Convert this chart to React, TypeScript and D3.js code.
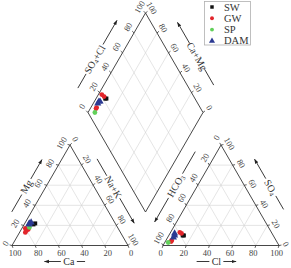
import * as d3 from 'd3';

// groups and legend
const groups = ['SW', 'GW', 'SP', 'DAM'];
const groupColors = ['#111111', '#e2252b', '#62d05a', '#2b3a92'];
const groupShapes = [d3.symbolSquare, d3.symbolCircle, d3.symbolCircle, d3.symbolTriangle];

// samples (meq %)
const sampleGroup = ['SW', 'SW', 'GW', 'GW', 'GW', 'GW', 'SP', 'DAM', 'DAM', 'DAM'];
const ca = [69, 71, 78, 80, 80, 82, 76, 74, 72, 75];
const mg = [22, 21, 16, 17, 15, 13, 18, 22, 23, 21];
const nak = [9, 8, 6, 3, 5, 5, 6, 4, 5, 4];
const hco3 = [77, 78, 78, 79, 90, 91, 94, 85, 84, 87];
const cl = [13, 12, 10, 8, 5, 5, 3, 5, 4, 5];
const so4 = [10, 10, 12, 13, 5, 4, 3, 10, 12, 8];

const tickValues = [0, 20, 40, 60, 80, 100];
const gridValues = [20, 40, 60, 80];

const FONT = '"Liberation Serif", "Times New Roman", serif';
const S = 116;
const H = S * Math.sqrt(3) / 2;
const baseY = 245.5;
const leftX0 = 12;
const rightX0 = 163;
const dBottom: [number, number] = [145.5, 212];
const dLeft: [number, number] = [-57.5, -99.5];
const dRight: [number, number] = [57.5, -99.5];

const frac = d3.scaleLinear().domain([0, 100]).range([0, 1]);

type P = [number, number];

const cationPt = (c: number, m: number, n: number): P => {
  const tot = c + m + n;
  const mm = frac((m / tot) * 100), nn = frac((n / tot) * 100);
  return [leftX0 + S * (nn + mm / 2), baseY - H * mm];
};
const anionPt = (h: number, c: number, s: number): P => {
  const tot = h + c + s;
  const ss = frac((s / tot) * 100), cc = frac((c / tot) * 100);
  return [rightX0 + S * (cc + ss / 2), baseY - H * ss];
};
const diamondPt = (caMg: number, so4Cl: number): P => {
  const a = frac(caMg), b = frac(so4Cl);
  return [dBottom[0] + a * dLeft[0] + b * dRight[0], dBottom[1] + a * dLeft[1] + b * dRight[1]];
};

const line = d3.line<P>();

const Sub = ({ main, sub, rest }: { main: string; sub?: string; rest?: string }) => (
  <>
    {main}
    {sub && <tspan fontSize={6.5} dy={2}>{sub}</tspan>}
    {rest && <tspan dy={sub ? -2 : 0}>{rest}</tspan>}
  </>
);

const AxisTitle = ({ p0, p1, n, d, ta, tb, tm, gap, rot, children }: any) => {
  const len = Math.hypot(p1[0] - p0[0], p1[1] - p0[1]);
  const u: P = [(p1[0] - p0[0]) / len, (p1[1] - p0[1]) / len];
  const at = (t: number, extra = 0): P => [
    p0[0] + u[0] * (t * len + extra) + n[0] * d,
    p0[1] + u[1] * (t * len + extra) + n[1] * d,
  ];
  const m = at(tm);
  return (
    <g>
      <path d={line([at(ta), at(tm, -gap)])!} stroke="#222" strokeWidth={0.9} />
      <path d={line([at(tm, gap), at(tb)])!} stroke="#222" strokeWidth={0.9} markerEnd="url(#arrow)" />
      <text x={m[0]} y={m[1]} transform={`rotate(${rot},${m[0]},${m[1]})`} textAnchor="middle"
        dominantBaseline="central" fontSize={10} fill="#333" fontFamily={FONT}>
        {children}
      </text>
    </g>
  );
};

export default function App() {
  const pts = sampleGroup.map((g, i) => ({
    g,
    cat: cationPt(ca[i], mg[i], nak[i]),
    an: anionPt(hco3[i], cl[i], so4[i]),
    dia: diamondPt(mg[i] + ca[i], so4[i] + cl[i]),
  }));

  const lt = { bl: cationPt(100, 0, 0), br: cationPt(0, 0, 100), top: cationPt(0, 100, 0) };
  const rt = { bl: anionPt(100, 0, 0), br: anionPt(0, 100, 0), top: anionPt(0, 0, 100) };
  const dm = { b: diamondPt(0, 0), l: diamondPt(100, 0), r: diamondPt(0, 100), t: diamondPt(100, 100) };

  const grid: [P, P][] = [];
  gridValues.forEach((v) => {
    grid.push([cationPt(100 - v, v, 0), cationPt(0, v, 100 - v)]);
    grid.push([cationPt(v, 100 - v, 0), cationPt(v, 0, 100 - v)]);
    grid.push([cationPt(100 - v, 0, v), cationPt(0, 100 - v, v)]);
    grid.push([anionPt(100 - v, 0, v), anionPt(0, 100 - v, v)]);
    grid.push([anionPt(v, 100 - v, 0), anionPt(v, 0, 100 - v)]);
    grid.push([anionPt(100 - v, v, 0), anionPt(0, v, 100 - v)]);
    grid.push([diamondPt(v, 0), diamondPt(v, 100)]);
    grid.push([diamondPt(0, v), diamondPt(100, v)]);
  });

  // tick label sets: position fn, offset, rotation
  const tickSets: { pos: (v: number) => P; off: P; rot: number }[] = [
    { pos: (v) => cationPt(v, 0, 100 - v), off: [3, 7.5], rot: 0 },
    { pos: (v) => cationPt(100 - v, v, 0), off: [-8.5, -2], rot: -60 },
    { pos: (v) => cationPt(0, 100 - v, v), off: [5.5, -6], rot: 60 },
    { pos: (v) => anionPt(100 - v, v, 0), off: [-2.5, 7.5], rot: 0 },
    { pos: (v) => anionPt(v, 0, 100 - v), off: [-4.5, -7.5], rot: -60 },
    { pos: (v) => anionPt(0, 100 - v, v), off: [8.5, -1.5], rot: 60 },
    { pos: (v) => diamondPt(100, v), off: [-6, -6], rot: -60 },
    { pos: (v) => diamondPt(v, 100), off: [6.3, -5], rot: 60 },
  ];

  const nL: P = [-0.866, -0.5];
  const nR: P = [0.866, -0.5];

  return (
    <svg width={291} height={268} style={{ position: 'absolute', left: 0, top: 0 }}>
      <defs>
        <marker id="arrow" viewBox="0 0 10 10" refX={9} refY={5} markerWidth={5.5} markerHeight={5.5} orient="auto">
          <path d="M0,1.5 L10,5 L0,8.5 Z" fill="#222" />
        </marker>
      </defs>
      <rect width={291} height={268} fill="#fff" />

      {grid.map(([a, b], i) => (
        <path key={i} d={line([a, b])!} stroke="#d4d4d4" strokeWidth={0.6} fill="none" />
      ))}

      <path d={line([lt.bl, lt.br, lt.top])! + 'Z'} fill="none" stroke="#333" strokeWidth={0.9} />
      <path d={line([rt.bl, rt.br, rt.top])! + 'Z'} fill="none" stroke="#333" strokeWidth={0.9} />
      <path d={line([dm.b, dm.l, dm.t, dm.r])! + 'Z'} fill="none" stroke="#333" strokeWidth={0.9} />

      {tickSets.map((ts, si) =>
        tickValues.map((v) => {
          const p = ts.pos(v);
          const x = Math.min(286, Math.max(5.5, p[0] + ts.off[0])), y = p[1] + ts.off[1];
          const ol = Math.hypot(ts.off[0], ts.off[1]);
          return (
            <g key={`${si}-${v}`}>
              <path d={line([p, [p[0] + (ts.off[0] / ol) * 2.5, p[1] + (ts.off[1] / ol) * 2.5]])!}
                stroke="#333" strokeWidth={0.8} />
              <text x={x} y={y} transform={`rotate(${ts.rot},${x},${y})`} textAnchor="middle"
                dominantBaseline="central" fontSize={8.5} fill="#444" fontFamily={FONT}>
                {v}
              </text>
            </g>
          );
        })
      )}

      <AxisTitle p0={lt.br} p1={lt.bl} n={[0, 1]} d={16} ta={0.37} tb={0.72} tm={0.51} gap={8} rot={0}>Ca</AxisTitle>
      <AxisTitle p0={lt.bl} p1={lt.top} n={nL} d={17} ta={0.25} tb={0.77} tm={0.5} gap={9} rot={-60}>Mg</AxisTitle>
      <AxisTitle p0={lt.top} p1={lt.br} n={nR} d={16.5} ta={0.22} tb={0.86} tm={0.5} gap={13} rot={60}>Na+K</AxisTitle>
      <AxisTitle p0={rt.bl} p1={rt.br} n={[0, 1]} d={16} ta={0.29} tb={0.63} tm={0.46} gap={7} rot={0}>Cl</AxisTitle>
      <AxisTitle p0={rt.top} p1={rt.bl} n={nL} d={19} ta={0.16} tb={0.86} tm={0.5} gap={14} rot={-60}>
        <Sub main="HCO" sub="3" />
      </AxisTitle>
      <AxisTitle p0={rt.br} p1={rt.top} n={nR} d={22} ta={0.25} tb={0.75} tm={0.47} gap={10} rot={60}>
        <Sub main="SO" sub="4" />
      </AxisTitle>
      <AxisTitle p0={dm.l} p1={dm.t} n={nL} d={21} ta={0.14} tb={0.82} tm={0.43} gap={17} rot={-60}>
        <Sub main="SO" sub="4" rest="+Cl" />
      </AxisTitle>
      <AxisTitle p0={dm.r} p1={dm.t} n={nR} d={23} ta={0.16} tb={0.79} tm={0.45} gap={15} rot={60}>Ca+Mg</AxisTitle>

      {groups.map((g, gi) =>
        pts.filter((p) => p.g === g).map((p, i) =>
          [p.cat, p.an, p.dia].map((q, k) => (
            <path key={`${g}-${i}-${k}`} transform={`translate(${q[0]},${q[1]})`}
              d={d3.symbol().type(groupShapes[gi]).size(gi === 3 ? 22 : gi === 0 ? 16 : 18)()!}
              fill={groupColors[gi]} />
          ))
        )
      )}

      <g>
        <rect x={204.5} y={1.5} width={46} height={43.5} fill="#fff" stroke="#b0b0b0" strokeWidth={0.8} />
        {groups.map((g, gi) => (
          <g key={g} transform={`translate(212,${7 + gi * 11.3})`}>
            <path d={d3.symbol().type(groupShapes[gi]).size(gi === 3 ? 16 : 12)()!} fill={groupColors[gi]} />
            <text x={12} y={0} dominantBaseline="central" fontSize={10.5} fill="#333" fontFamily={FONT}>{g}</text>
          </g>
        ))}
      </g>
    </svg>
  );
}
